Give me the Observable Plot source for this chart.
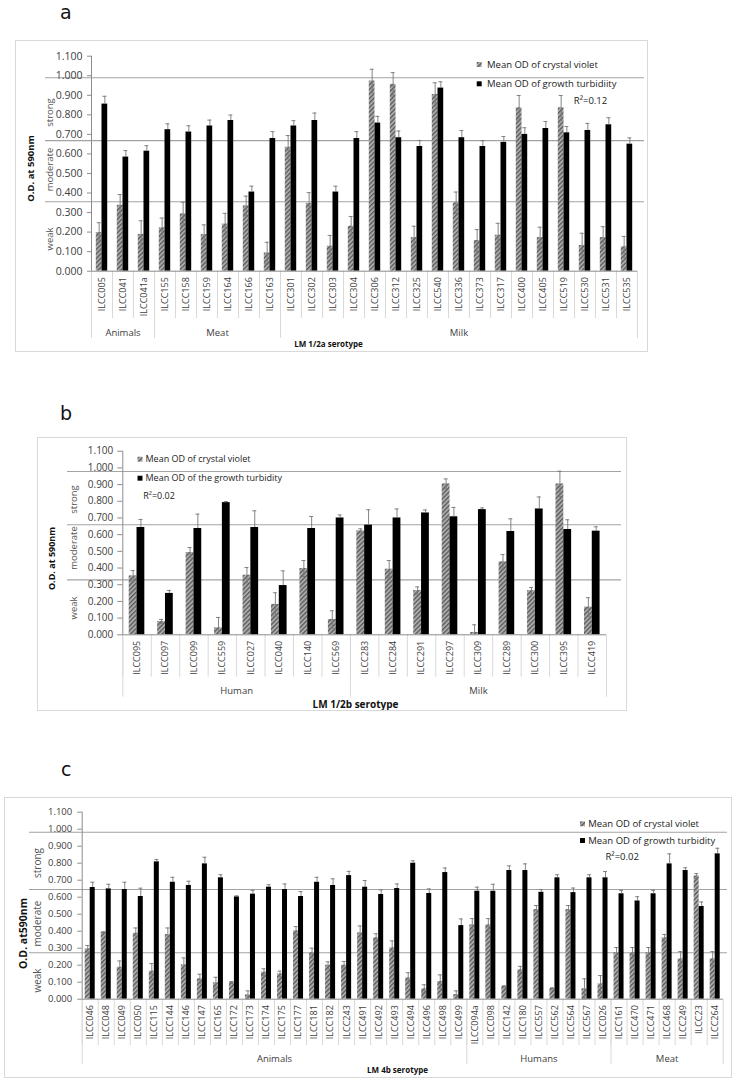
<!DOCTYPE html>
<html>
<head>
<meta charset="utf-8">
<script src="https://cdn.jsdelivr.net/npm/d3@7"></script>
<script src="https://cdn.jsdelivr.net/npm/@observablehq/plot@0.6"></script>
<style>
  html, body { margin: 0; padding: 0; background: #fff; }
  body { width: 733px; height: 1080px; position: relative; overflow: hidden; font-family: "Open Sans", sans-serif; }
  .tag { position: absolute; font-family: "DejaVu Sans", sans-serif; font-size: 19px; line-height: normal; color: #111; }
  .box { position: absolute; border: 1px solid #d9d9d9; box-sizing: border-box; pointer-events: none; }
  .holder { position: absolute; }
</style>
</head>
<body>
<svg width="0" height="0" style="position:absolute">
  <defs>
    <pattern id="hatch" patternUnits="userSpaceOnUse" width="3.2" height="3.2" patternTransform="rotate(45)">
      <rect width="3.2" height="3.2" fill="#ababab"></rect>
      <rect width="1.3" height="3.2" fill="#5a5a5a"></rect>
    </pattern>
  </defs>
</svg>
<div class="tag" style="left:60px;top:0.5px">a</div>
<div class="tag" style="left:60px;top:402px">b</div>
<div class="tag" style="left:61px;top:758px">c</div>
<div id="root"></div>
<script>
// ---------- shared ----------
const yTicks = [0.000, 0.100, 0.200, 0.300, 0.400, 0.500, 0.600, 0.700, 0.800, 0.900, 1.000, 1.100];
const zoneNames = ["strong", "moderate", "weak"];

// ---------- panel a : LM 1/2a serotype ----------
const catsA = ["ILCC005","ILCC041","ILCC041a","ILCC155","ILCC158","ILCC159","ILCC164","ILCC166","ILCC163",
  "ILCC301","ILCC302","ILCC303","ILCC304","ILCC306","ILCC312","ILCC325","ILCC540","ILCC336","ILCC373",
  "ILCC317","ILCC400","ILCC405","ILCC519","ILCC530","ILCC531","ILCC535"];
const groupsA = ["Animals", "Meat", "Milk"];
const groupSizesA = [3, 6, 17];
const cvA = [0.198,0.337,0.188,0.222,0.293,0.187,0.241,0.334,0.093,0.634,0.347,0.128,0.230,0.973,0.956,
  0.172,0.904,0.350,0.157,0.184,0.836,0.172,0.836,0.131,0.172,0.125];
const cvErrA = [0.05,0.055,0.07,0.05,0.06,0.05,0.055,0.05,0.055,0.06,0.055,0.055,0.05,0.06,0.06,
  0.058,0.06,0.055,0.056,0.061,0.063,0.053,0.063,0.063,0.056,0.053];
const gtA = [0.855,0.584,0.614,0.724,0.712,0.743,0.771,0.405,0.679,0.743,0.771,0.405,0.679,0.758,0.683,
  0.638,0.937,0.683,0.638,0.659,0.700,0.730,0.708,0.720,0.749,0.650];
const gtErrA = [0.04,0.033,0.028,0.03,0.032,0.03,0.028,0.03,0.035,0.027,0.038,0.03,0.035,0.034,0.034,
  0.031,0.032,0.037,0.03,0.03,0.034,0.036,0.032,0.036,0.036,0.032];
const seriesA = ["Mean OD of crystal violet", "Mean OD of growth turbidiity"];
const thresholdsA = [0.99, 0.668, 0.355];

// ---------- panel b : LM 1/2b serotype ----------
const catsB = ["ILCC095","ILCC097","ILCC099","ILCC559","ILCC027","ILCC040","ILCC140","ILCC569",
  "ILCC283","ILCC284","ILCC291","ILCC297","ILCC309","ILCC289","ILCC300","ILCC395","ILCC419"];
const groupsB = ["Human", "Milk"];
const groupSizesB = [8, 9];
const cvB = [0.353,0.080,0.493,0.042,0.357,0.182,0.397,0.092,0.623,0.393,0.265,0.904,0.014,0.437,0.265,0.904,0.166];
const cvErrB = [0.032,0.012,0.03,0.062,0.046,0.07,0.048,0.052,0.012,0.052,0.022,0.03,0.046,0.044,0.018,0.076,0.056];
const gtB = [0.643,0.248,0.637,0.792,0.643,0.295,0.637,0.700,0.657,0.700,0.730,0.707,0.750,0.619,0.754,0.631,0.621];
const gtErrB = [0.048,0.018,0.086,0.006,0.10,0.088,0.072,0.018,0.092,0.054,0.018,0.056,0.01,0.076,0.072,0.058,0.026];
const seriesB = ["Mean OD of crystal violet", "Mean OD of the growth turbidity"];
const thresholdsB = [0.978, 0.659, 0.329];

// ---------- panel c : LM 4b serotype ----------
const catsC = ["ILCC046","ILCC048","ILCC049","ILCC050","ILCC115","ILCC144","ILCC146","ILCC147","ILCC165",
  "ILCC172","ILCC173","ILCC174","ILCC175","ILCC177","ILCC181","ILCC182","ILCC243","ILCC491","ILCC492",
  "ILCC493","ILCC494","ILCC496","ILCC498","ILCC499","ILCC094a","ILCC098","ILCC142","ILCC180","ILCC557",
  "ILCC562","ILCC564","ILCC567","ILCC026","ILCC161","ILCC470","ILCC471","ILCC468","ILCC249","ILCC23","ILCC264"];
const groupsC = ["Animals", "Humans", "Meat"];
const groupSizesC = [24, 9, 7];
const cvC = [0.296,0.394,0.188,0.388,0.165,0.380,0.202,0.120,0.096,0.098,0.025,0.159,0.149,0.402,0.273,
  0.200,0.200,0.390,0.361,0.302,0.125,0.061,0.104,0.027,0.437,0.437,0.075,0.173,0.527,0.063,0.527,0.061,
  0.090,0.273,0.273,0.273,0.361,0.237,0.725,0.237];
const cvErrC = [0.02,0.002,0.037,0.031,0.045,0.039,0.041,0.027,0.033,0.006,0.024,0.02,0.016,0.025,0.027,
  0.02,0.022,0.041,0.024,0.041,0.031,0.024,0.039,0.022,0.037,0.037,0.004,0.02,0.024,0.004,0.024,0.059,
  0.049,0.031,0.031,0.031,0.02,0.043,0.014,0.043];
const gtC = [0.657,0.649,0.645,0.604,0.808,0.688,0.669,0.796,0.714,0.602,0.618,0.659,0.645,0.604,0.688,
  0.669,0.727,0.659,0.616,0.651,0.800,0.622,0.745,0.433,0.635,0.635,0.757,0.757,0.629,0.714,0.627,0.714,
  0.714,0.620,0.578,0.620,0.796,0.757,0.545,0.855];
const gtErrC = [0.031,0.027,0.043,0.049,0.014,0.029,0.025,0.039,0.018,0.006,0.022,0.014,0.033,0.029,0.029,
  0.039,0.025,0.039,0.027,0.027,0.014,0.027,0.027,0.039,0.024,0.041,0.027,0.039,0.016,0.018,0.027,0.018,
  0.037,0.02,0.025,0.02,0.059,0.016,0.027,0.033];
const seriesC = ["Mean OD of crystal violet", "Mean OD of growth turbidity"];
const thresholdsC = [0.982, 0.645, 0.273];

// ---------- layout (page pixels) ----------
const panels = [
  { cats: catsA, groups: groupsA, sizes: groupSizesA, cv: cvA, cvErr: cvErrA, gt: gtA, gtErr: gtErrA,
    series: seriesA, thresholds: thresholdsA, r2: "R\u00b2=0.12", yTitle: "O.D. at 590nm", serotype: "LM 1/2a serotype",
    box: {x: 15, y: 40, w: 633, h: 312}, plot: {x0: 91, x1: 637, yTop: 55.7, yZero: 270.7},
    barW: 5.7, catH: 47.3, grpH: 67.3, lineX0: 45, lineX1: 644,
    tickFont: 10.5, tickSize: 4, tickPad: 5, catFont: 9,
    zoneX: 49, zoneY: [112, 169, 238.5], zoneFont: 9.5,
    yTitlePos: [30, 168], yTitleFont: 9.5,
    swX: 478.7, legY: [64, 83.3], legTextX: 486.5, legFont: 9.5,
    r2Pos: [573.3, 100.7], groupY: 332.7, groupFont: 9.5,
    seroPos: [328, 343.5], seroFont: 8 },
  { cats: catsB, groups: groupsB, sizes: groupSizesB, cv: cvB, cvErr: cvErrB, gt: gtB, gtErr: gtErrB,
    series: seriesB, thresholds: thresholdsB, r2: "R\u00b2=0.02", yTitle: "O.D. at 590nm", serotype: "LM 1/2b serotype",
    box: {x: 37, y: 437, w: 590, h: 274}, plot: {x0: 122.3, x1: 606, yTop: 450.7, yZero: 634.3},
    barW: 7.8, catH: 42.4, grpH: 62.4, lineX0: 67, lineX1: 621,
    tickFont: 10, tickSize: 5, tickPad: 4.5, catFont: 9,
    zoneX: 73, zoneY: [499, 547.5, 607.5], zoneFont: 9.5,
    yTitlePos: [51.5, 558], yTitleFont: 9,
    swX: 139.5, legY: [458.7, 477.7], legTextX: 145, legFont: 9,
    r2Pos: [142.7, 495.7], groupY: 690, groupFont: 9.5,
    seroPos: [355, 704.3], seroFont: 10 },
  { cats: catsC, groups: groupsC, sizes: groupSizesC, cv: cvC, cvErr: cvErrC, gt: gtC, gtErr: gtErrC,
    series: seriesC, thresholds: thresholdsC, r2: "R\u00b2=0.02", yTitle: "O.D. at590nm", serotype: "LM 4b serotype",
    box: {x: 4, y: 797, w: 728, h: 281}, plot: {x0: 81.7, x1: 722.7, yTop: 811.7, yZero: 998.7},
    barW: 5, catH: 46.3, grpH: 65.3, lineX0: 29, lineX1: 727,
    tickFont: 9.5, tickSize: 4.4, tickPad: 5.6, catFont: 9,
    zoneX: 37.5, zoneY: [862.5, 923, 980], zoneFont: 10,
    yTitlePos: [23.5, 933], yTitleFont: 10.5,
    swX: 582, legY: [823.3, 840], legTextX: 587.7, legFont: 9.5,
    r2Pos: [605, 856.7], groupY: 1058, groupFont: 9.5,
    seroPos: [397, 1070], seroFont: 8 }
];

function makePanel(c) {
  const ml = c.plot.x0 - c.box.x, mr = c.box.x + c.box.w - c.plot.x1;
  const mt = c.plot.yTop - c.box.y, mb = c.box.y + c.box.h - c.plot.yZero;
  const n = c.cats.length, bw = (c.plot.x1 - c.plot.x0) / n, w = c.barW, cap = 4;
  const rows = c.cats.map((cat, i) => ({cat, cv: c.cv[i], cvE: c.cvErr[i], gt: c.gt[i], gtE: c.gtErr[i]}));
  const gc = bw / 2 - w / 2, kc = bw / 2 + w / 2;
  const at = (px, py) => ({frameAnchor: "top-left", dx: px - c.plot.x0, dy: py - c.plot.yTop});
  const ink = "#404040", errInk = "#777", sep = "#d9d9d9", axisInk = "#8c8c8c";
  const starts = []; let s = 0; for (const k of c.sizes) { starts.push(s); s += k; }
  const label = (txt, px, py, o = {}) => Plot.text([txt], {text: d => d, ...at(px, py), fill: ink,
    textAnchor: "middle", lineAnchor: "middle", ...o});

  const marks = [
    Plot.ruleY(c.thresholds, {stroke: "#a3a3a3", strokeWidth: 1.1,
      insetLeft: c.lineX0 - c.plot.x0, insetRight: c.plot.x1 - c.lineX1}),
    Plot.barY(rows, {x: "cat", y: "cv", fill: "url(#hatch)", insetLeft: bw / 2 - w, insetRight: bw / 2}),
    Plot.barY(rows, {x: "cat", y: "gt", fill: "#000", insetLeft: bw / 2, insetRight: bw / 2 - w}),
    Plot.ruleX(rows, {x: "cat", y1: d => Math.max(0, d.cv - d.cvE), y2: d => d.cv + d.cvE, dx: -w / 2, stroke: errInk, strokeWidth: 0.9}),
    Plot.tickY(rows, {x: "cat", y: d => d.cv + d.cvE, insetLeft: gc - cap / 2, insetRight: bw - gc - cap / 2, stroke: errInk, strokeWidth: 0.9}),
    Plot.tickY(rows.filter(d => d.cv - d.cvE > 0), {x: "cat", y: d => d.cv - d.cvE, insetLeft: gc - cap / 2, insetRight: bw - gc - cap / 2, stroke: errInk, strokeWidth: 0.9}),
    Plot.ruleX(rows, {x: "cat", y1: "gt", y2: d => d.gt + d.gtE, dx: w / 2, stroke: errInk, strokeWidth: 0.9}),
    Plot.tickY(rows, {x: "cat", y: d => d.gt + d.gtE, insetLeft: kc - cap / 2, insetRight: bw - kc - cap / 2, stroke: errInk, strokeWidth: 0.9}),
    // category boxes and group boxes below the axis
    Plot.ruleX(c.cats, {x: d => d, y1: 0, y2: 0, dx: -bw / 2, insetBottom: -c.catH, stroke: sep}),
    Plot.ruleX(starts.map(i => c.cats[i]), {x: d => d, y1: 0, y2: 0, dx: -bw / 2, insetBottom: -c.grpH, stroke: sep}),
    Plot.ruleX([c.cats[n - 1]], {x: d => d, y1: 0, y2: 0, dx: bw / 2, insetBottom: -c.grpH, stroke: sep}),
    // axes
    Plot.ruleY([0], {stroke: axisInk}),
    Plot.ruleX([c.cats[0]], {x: d => d, y1: 0, y2: 1.1, dx: -bw / 2, stroke: axisInk}),
    Plot.axisY({ticks: yTicks, tickFormat: d3.format(".3f"), tickSize: c.tickSize, tickPadding: c.tickPad,
      fontSize: c.tickFont, stroke: axisInk, fill: ink, label: null}),
    Plot.axisX({tickRotate: -90, tickSize: 0, tickPadding: 6, fontSize: c.catFont, fill: ink, label: null}),
    // zone labels and y title
    ...zoneNames.map((z, i) => label(z, c.zoneX, c.zoneY[i], {rotate: -90, fontSize: c.zoneFont, fill: "#555"})),
    label(c.yTitle, c.yTitlePos[0], c.yTitlePos[1], {rotate: -90, fontSize: c.yTitleFont, fontWeight: "bold", fill: "#111"}),
    // legend
    Plot.dot([0], {...at(c.swX, c.legY[0]), symbol: "square", r: 2.8, fill: "url(#hatch)"}),
    Plot.dot([0], {...at(c.swX, c.legY[1]), symbol: "square", r: 2.8, fill: "#000"}),
    label(c.series[0], c.legTextX, c.legY[0], {textAnchor: "start", fontSize: c.legFont, fill: "#222"}),
    label(c.series[1], c.legTextX, c.legY[1], {textAnchor: "start", fontSize: c.legFont, fill: "#222"}),
    label(c.r2, c.r2Pos[0], c.r2Pos[1], {textAnchor: "start", fontSize: c.legFont, fill: "#222"}),
    // serotype title
    label(c.serotype, c.seroPos[0], c.seroPos[1], {fontSize: c.seroFont, fontWeight: "bold", fill: "#111"})
  ];
  // group labels centred under their categories
  c.groups.forEach((g, gi) => {
    const mid = starts[gi] + (c.sizes[gi] - 1) / 2;
    const i0 = Math.floor(mid);
    const key = c.cats[i0];
    marks.push(Plot.text([g], {text: d => d, x: () => key, frameAnchor: "bottom", textAnchor: "middle",
      dx: (mid - i0) * bw, dy: c.groupY - c.plot.yZero, fontSize: c.groupFont, fill: ink, lineAnchor: "middle"}));
  });

  return Plot.plot({
    width: c.box.w, height: c.box.h,
    marginLeft: ml, marginRight: mr, marginTop: mt, marginBottom: mb,
    x: {type: "band", domain: c.cats, padding: 0, round: false, axis: null},
    y: {domain: [0, 1.1], axis: null},
    style: {fontFamily: "'Open Sans', sans-serif", fontSize: "10px", color: ink, background: "transparent", overflow: "visible"},
    marks
  });
}

const root = document.getElementById("root");
for (const c of panels) {
  const holder = document.createElement("div");
  holder.className = "holder";
  holder.style.left = c.box.x + "px";
  holder.style.top = c.box.y + "px";
  holder.appendChild(makePanel(c));
  root.appendChild(holder);
  const box = document.createElement("div");
  box.className = "box";
  box.style.left = c.box.x + "px";
  box.style.top = c.box.y + "px";
  box.style.width = c.box.w + "px";
  box.style.height = c.box.h + "px";
  root.appendChild(box);
}
</script>
</body>
</html>
